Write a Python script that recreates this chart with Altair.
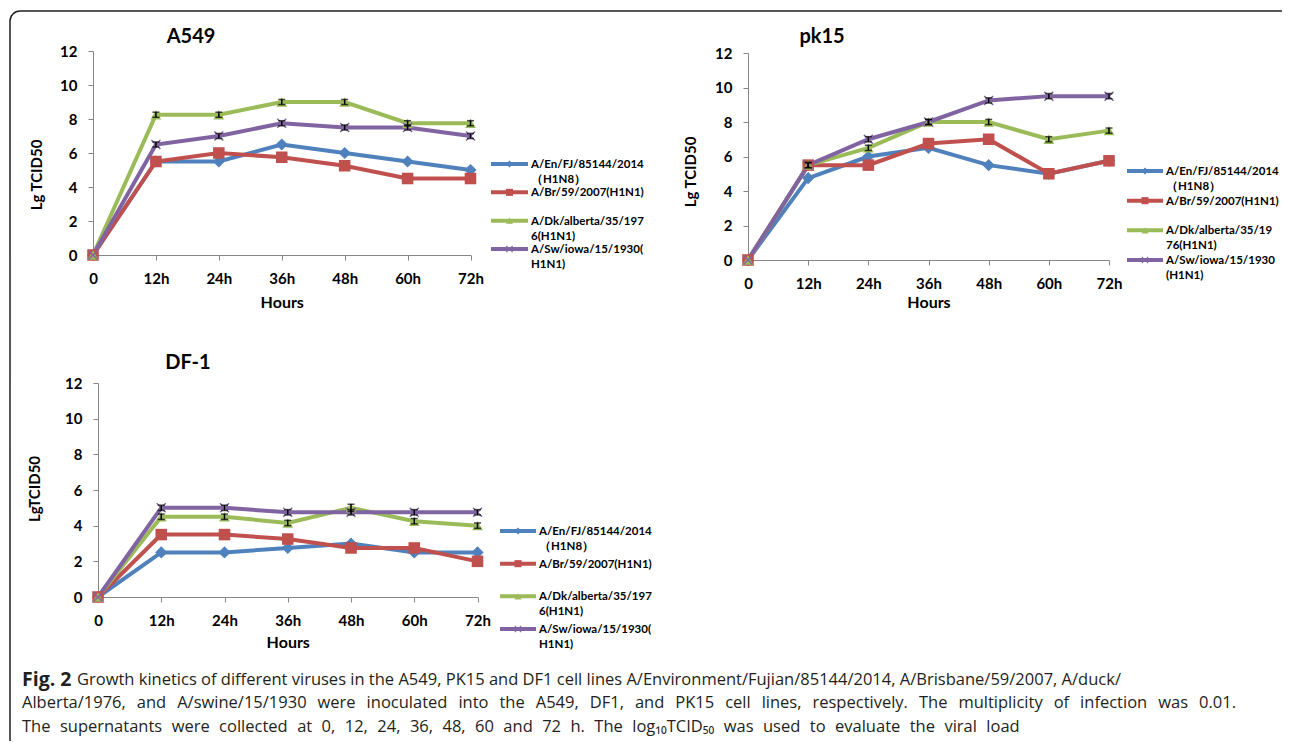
import altair as alt
import pandas as pd

# ---------------- data ----------------
hours = ["0", "12h", "24h", "36h", "48h", "60h", "72h"]
series = ["A/En/FJ/85144/2014(H1N8)", "A/Br/59/2007(H1N1)",
          "A/Dk/alberta/35/1976(H1N1)", "A/Sw/iowa/15/1930(H1N1)"]
colors = ["#4F81BD", "#C0504D", "#9BBB59", "#8064A2"]

a549_en = [0, 5.5, 5.5, 6.5, 6.0, 5.5, 5.0]
a549_br = [0, 5.5, 6.0, 5.75, 5.25, 4.5, 4.5]
a549_dk = [0, 8.25, 8.25, 9.0, 9.0, 7.75, 7.75]
a549_sw = [0, 6.5, 7.0, 7.75, 7.5, 7.5, 7.0]

pk15_en = [0, 4.75, 6.0, 6.5, 5.5, 5.0, 5.75]
pk15_br = [0, 5.5, 5.5, 6.75, 7.0, 5.0, 5.75]
pk15_dk = [0, 5.5, 6.5, 8.0, 8.0, 7.0, 7.5]
pk15_sw = [0, 5.5, 7.0, 8.0, 9.25, 9.5, 9.5]

df1_en = [0, 2.5, 2.5, 2.75, 3.0, 2.5, 2.5]
df1_br = [0, 3.5, 3.5, 3.25, 2.75, 2.75, 2.0]
df1_dk = [0, 4.5, 4.5, 4.15, 5.0, 4.25, 4.0]
df1_sw = [0, 5.0, 5.0, 4.75, 4.75, 4.75, 4.75]

# error bar half-lengths (visible ones: green and purple series)
a549_dk_err = [0, 0.15, 0.15, 0.15, 0.15, 0.15, 0.15]
a549_sw_err = [0, 0.15, 0.15, 0.15, 0.15, 0.15, 0.15]
pk15_dk_err = [0, 0.15, 0.15, 0.15, 0.15, 0.15, 0.15]
pk15_sw_err = [0, 0.15, 0.15, 0.15, 0.15, 0.15, 0.15]
df1_dk_err = [0, 0.15, 0.15, 0.15, 0.2, 0.15, 0.15]
df1_sw_err = [0, 0.15, 0.15, 0.15, 0.15, 0.15, 0.15]

legend_a = ["A/En/FJ/85144/2014\n\uff08H1N8\uff09", "A/Br/59/2007(H1N1)",
            "A/Dk/alberta/35/197\n6(H1N1)", "A/Sw/iowa/15/1930(\nH1N1)"]
legend_p = ["A/En/FJ/85144/2014\n\uff08H1N8\uff09", "A/Br/59/2007(H1N1)",
            "A/Dk/alberta/35/19\n76(H1N1)", "A/Sw/iowa/15/1930\n(H1N1)"]

caption_fig = "Fig. 2"
caption_l1 = ("Growth kinetics of different viruses in the A549, PK15 and DF1 cell lines "
              "A/Environment/Fujian/85144/2014, A/Brisbane/59/2007, A/duck/")
caption_l2 = ("Alberta/1976, and A/swine/15/1930 were inoculated into the A549, DF1, and PK15 "
              "cell lines, respectively. The multiplicity of infection was 0.01.")
caption_l3 = ("The supernatants were collected at 0, 12, 24, 36, 48, 60 and 72 h. "
              "The log\u2081\u2080TCID\u2085\u2080 was used to evaluate the viral load")

# justified-looking word spacing (wider spaces), text itself unchanged
caption_l2_j = caption_l2.replace(" ", "\u2002\u2009")
caption_l3_j = caption_l3.replace(" ", "\u2007")

# ---------------- styling / layout ----------------
W, H = 1274, 733
FONT = "Lato"
AXIS_GRAY = "#868686"
XPATH = ("M-0.8,-1L1,0.8L0.8,1L-1,-0.8Z "
         "M0.8,-1L1,-0.8L-0.8,1L-1,0.8Z")
shape_scale = alt.Scale(domain=series, range=["diamond", "square", "triangle-up", XPATH])
color_scale = alt.Scale(domain=series, range=colors)
size_scale = alt.Scale(domain=series, range=[150, 100, 150, 200])

panels = [
    dict(name="A549", vals=[a549_en, a549_br, a549_dk, a549_sw],
         errs={2: a549_dk_err, 3: a549_sw_err},
         xr=[85, 462.5], yr=[247, 43], ytitle="Lg TCID50", ytx=29, yty=167, xty=47,
         tx=183, ty=35, leg=legend_a, lx=[483, 520], ly=[156, 241]),
    dict(name="pk15", vals=[pk15_en, pk15_br, pk15_dk, pk15_sw],
         errs={2: pk15_dk_err, 3: pk15_sw_err},
         xr=[740, 1101], yr=[252, 45], ytitle="Lg TCID50", ytx=683, yty=164, xty=42,
         tx=814, ty=35, leg=legend_p, lx=[1119, 1155], ly=[163, 252]),
    dict(name="DF-1", vals=[df1_en, df1_br, df1_dk, df1_sw],
         errs={2: df1_dk_err, 3: df1_sw_err},
         xr=[90, 469.5], yr=[589, 375], ytitle="LgTCID50", ytx=27, yty=481, xty=45,
         tx=180, ty=361, leg=legend_a, lx=[492, 528], ly=[523, 621]),
]


def build_panel(p):
    rows = []
    for si, vals in enumerate(p["vals"]):
        for h, v in zip(hours, vals):
            rows.append({"series": series[si], "hour": h, "value": v})
    df = pd.DataFrame(rows)

    erows = []
    for si, errs in p["errs"].items():
        for h, v, e in zip(hours, p["vals"][si], errs):
            if e > 0:
                erows.append({"series": series[si], "hour": h, "lo": v - e, "hi": v + e})
    edf = pd.DataFrame(erows)

    xs = alt.Scale(type="point", domain=hours, range=p["xr"], padding=0)
    ys = alt.Scale(domain=[0, 12], range=p["yr"], nice=False, zero=True)

    x_axis = alt.Axis(orient="bottom", offset=p["yr"][0] - H, title="Hours",
                      titleY=p["xty"], titleBaseline="middle", titleFont=FONT,
                      titleFontSize=16, titleFontWeight="bold", titleColor="black",
                      labelFont=FONT, labelFontSize=15, labelFontWeight="bold",
                      labelColor="black", labelAngle=0, labelBaseline="middle",
                      labelPadding=18, tickSize=5, tickColor=AXIS_GRAY,
                      domainColor=AXIS_GRAY, grid=False)
    y_axis = alt.Axis(orient="left", offset=-p["xr"][0], title=None,
                      values=[0, 2, 4, 6, 8, 10, 12], labelFont=FONT, labelFontSize=15,
                      labelFontWeight="bold", labelColor="black", labelPadding=11,
                      tickSize=5, tickColor=AXIS_GRAY, domainColor=AXIS_GRAY, grid=False)

    color = alt.Color("series:N", scale=color_scale, legend=None)

    lines = alt.Chart(df).mark_line(strokeWidth=4).encode(
        x=alt.X("hour:O", scale=xs, axis=x_axis, sort=hours),
        y=alt.Y("value:Q", scale=ys, axis=y_axis),
        color=color,
        detail="series:N",
    )
    points = alt.Chart(df).mark_point(filled=True, opacity=1).encode(
        x=alt.X("hour:O", scale=xs, axis=None, sort=hours),
        y=alt.Y("value:Q", scale=ys, axis=None),
        color=color,
        shape=alt.Shape("series:N", scale=shape_scale, legend=None),
        size=alt.Size("series:N", scale=size_scale, legend=None),
    )
    ebar = alt.Chart(edf).mark_rule(color="black", strokeWidth=1.5).encode(
        x=alt.X("hour:O", scale=xs, axis=None, sort=hours),
        y=alt.Y("lo:Q", scale=ys, axis=None),
        y2="hi:Q",
    )
    ecap_lo = alt.Chart(edf).mark_tick(color="black", size=7, thickness=1.5).encode(
        x=alt.X("hour:O", scale=xs, axis=None, sort=hours),
        y=alt.Y("lo:Q", scale=ys, axis=None),
    )
    ecap_hi = alt.Chart(edf).mark_tick(color="black", size=7, thickness=1.5).encode(
        x=alt.X("hour:O", scale=xs, axis=None, sort=hours),
        y=alt.Y("hi:Q", scale=ys, axis=None),
    )

    ldf = pd.DataFrame({"series": series, "label": p["leg"]})
    lxs = alt.Scale(domain=[0, 1], range=p["lx"], nice=False, zero=False)
    lys = alt.Scale(type="point", domain=series, range=p["ly"], padding=0)
    lrule = alt.Chart(ldf).mark_rule(strokeWidth=4).encode(
        x=alt.XDatum(0, type="quantitative", scale=lxs, axis=None),
        x2=alt.X2Datum(1),
        y=alt.Y("series:N", scale=lys, axis=None),
        color=color,
    )
    lpoint = alt.Chart(ldf).mark_point(filled=True, opacity=1, size=50).encode(
        x=alt.XDatum(0.5, type="quantitative", scale=lxs, axis=None),
        y=alt.Y("series:N", scale=lys, axis=None),
        color=color,
        shape=alt.Shape("series:N", scale=shape_scale, legend=None),
    )
    ltext = alt.Chart(ldf).mark_text(
        align="left", baseline="alphabetic", dx=3, dy=4, lineBreak="\n",
        lineHeight=15, font=FONT, fontSize=11.5, fontWeight="bold", color="black"
    ).encode(
        x=alt.XDatum(1, type="quantitative", scale=lxs, axis=None),
        y=alt.Y("series:N", scale=lys, axis=None),
        text="label:N",
    )
    title = alt.Chart(pd.DataFrame({"t": [p["name"]]})).mark_text(
        align="center", baseline="alphabetic", font=FONT, fontSize=20,
        fontWeight="bold", color="black"
    ).encode(x=alt.value(p["tx"]), y=alt.value(p["ty"]), text="t:N")
    ytitle = alt.Chart(pd.DataFrame({"t": [p["ytitle"]]})).mark_text(
        align="center", baseline="middle", angle=270, font=FONT, fontSize=15,
        fontWeight="bold", color="black"
    ).encode(x=alt.value(p["ytx"]), y=alt.value(p["yty"]), text="t:N")

    return [lines, points, ebar, ecap_lo, ecap_hi, lrule, lpoint, ltext, title, ytitle]


layers = []
border = alt.Chart(alt.Data(values=[{}])).mark_rect(
    filled=False, stroke="#231f20", strokeWidth=1.5, cornerRadius=10, clip=True
).encode(x=alt.value(2), x2=alt.value(W + 14), y=alt.value(3), y2=alt.value(H + 8))
layers.append(border)

for p in panels:
    layers.extend(build_panel(p))

CAP_FONT = "Open Sans"
cap_color = "#231f20"
cap_fig = alt.Chart(pd.DataFrame({"t": [caption_fig]})).mark_text(
    align="left", baseline="middle", font=CAP_FONT, fontSize=19.5, fontWeight="bold",
    color=cap_color).encode(x=alt.value(14), y=alt.value(672), text="t:N")
cap1 = alt.Chart(pd.DataFrame({"t": [caption_l1]})).mark_text(
    align="left", baseline="middle", font=CAP_FONT, fontSize=16.5, color=cap_color
).encode(x=alt.value(69), y=alt.value(672), text="t:N")
cap2 = alt.Chart(pd.DataFrame({"t": [caption_l2_j]})).mark_text(
    align="left", baseline="middle", font=CAP_FONT, fontSize=16.5, color=cap_color
).encode(x=alt.value(14), y=alt.value(695), text="t:N")
cap3 = alt.Chart(pd.DataFrame({"t": [caption_l3_j]})).mark_text(
    align="left", baseline="middle", font=CAP_FONT, fontSize=16.5, color=cap_color
).encode(x=alt.value(14), y=alt.value(719), text="t:N")
layers.extend([cap_fig, cap1, cap2, cap3])

chart = alt.layer(*layers).resolve_scale(
    x="independent", y="independent"
).resolve_axis(
    x="independent", y="independent"
).properties(
    width=W, height=H, padding=0,
    autosize=alt.AutoSizeParams(type="none"),
    background="white",
).configure_view(stroke=None)

chart.save("out.html", embed_options={"renderer": "svg", "actions": False})
